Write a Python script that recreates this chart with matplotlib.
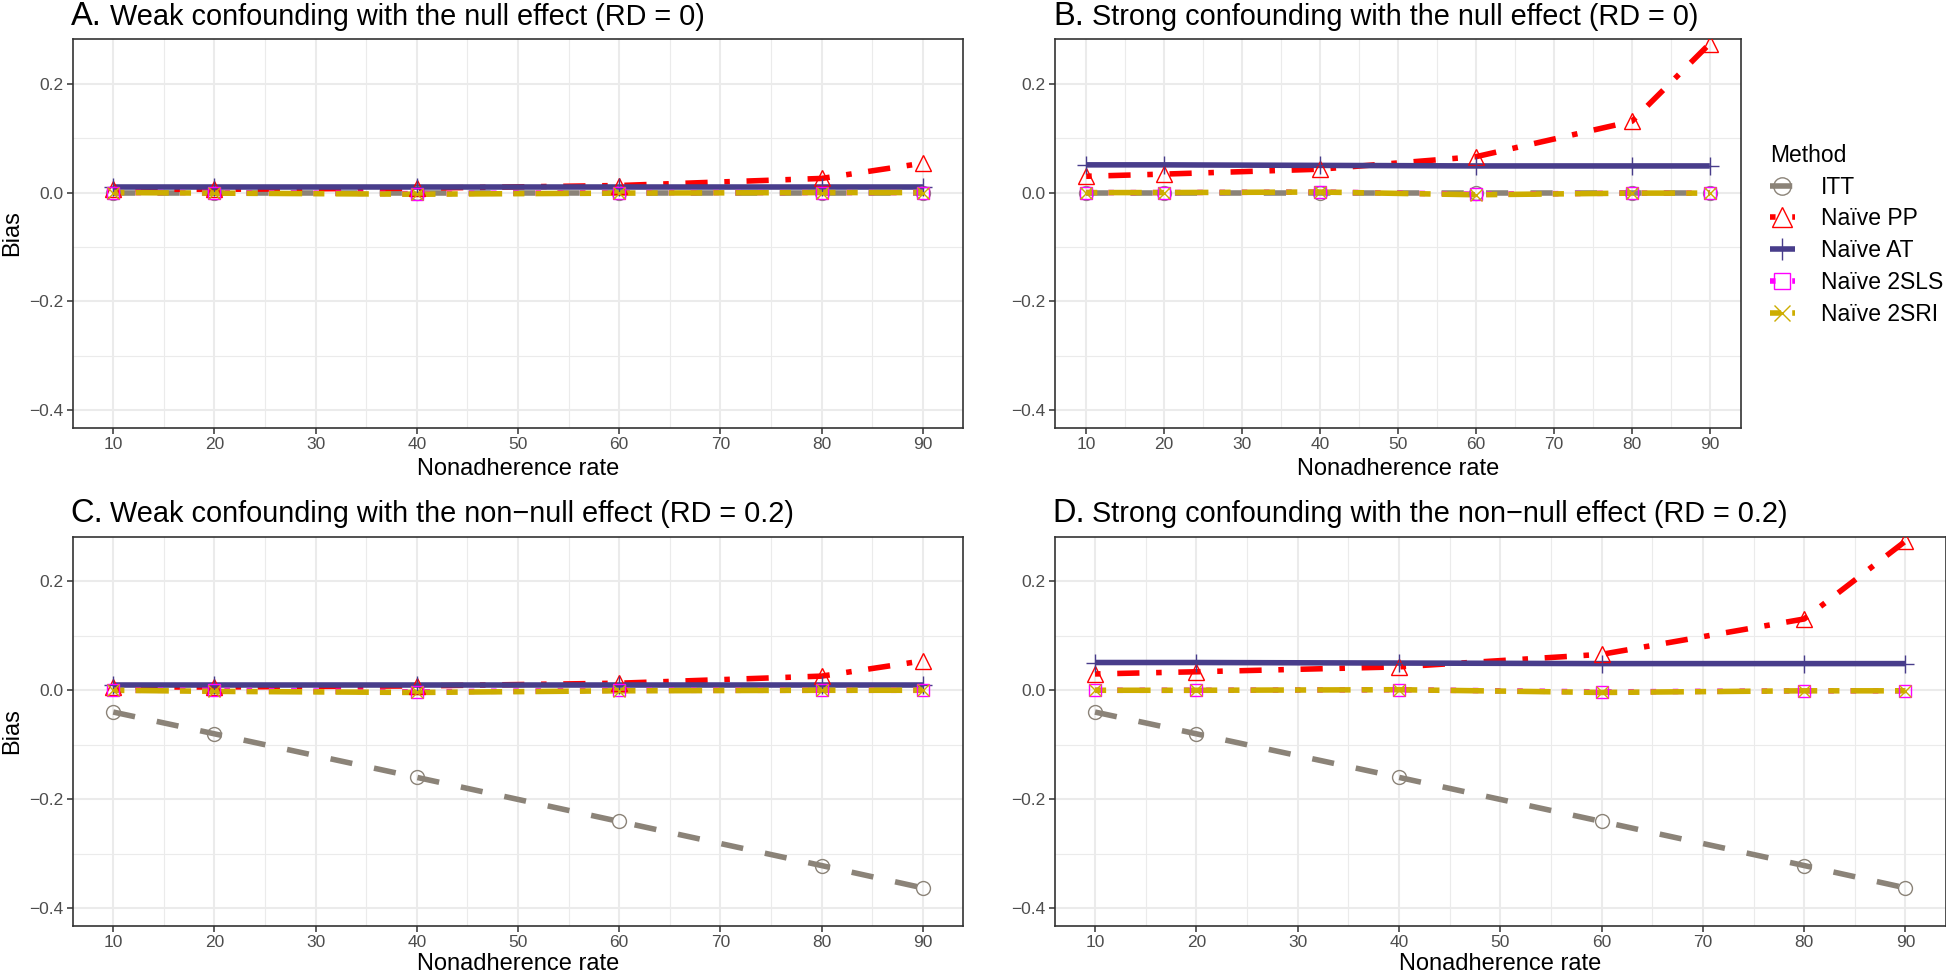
import numpy as np
import matplotlib.pyplot as plt
from matplotlib.lines import Line2D
from matplotlib.ticker import MultipleLocator, FixedLocator, FuncFormatter

plt.rcParams['font.family'] = ['Liberation Sans', 'DejaVu Sans']

# nonadherence rates (%) where the simulation was run
rate = [10, 20, 40, 60, 80, 90]

methods = ["ITT", "Naïve PP", "Naïve AT", "Naïve 2SLS", "Naïve 2SRI"]

# A: weak confounding, null effect
itt_a = [0.000, 0.000, 0.000, 0.000, 0.000, 0.000]
pp_a = [0.006, 0.006, 0.008, 0.013, 0.026, 0.054]
at_a = [0.010, 0.010, 0.010, 0.010, 0.010, 0.010]
sls_a = [0.000, 0.000, -0.002, 0.000, 0.000, 0.000]
sri_a = [0.000, -0.001, -0.003, -0.001, 0.000, 0.000]

# B: strong confounding, null effect
itt_b = [0.000, 0.000, 0.000, 0.000, 0.000, 0.000]
pp_b = [0.030, 0.034, 0.043, 0.066, 0.131, 0.274]
at_b = [0.051, 0.051, 0.050, 0.049, 0.049, 0.049]
sls_b = [0.000, 0.000, 0.001, -0.003, -0.001, -0.001]
sri_b = [0.000, 0.000, 0.001, -0.004, -0.001, -0.001]

# C: weak confounding, RD = 0.2
itt_c = [-0.040, -0.080, -0.160, -0.241, -0.322, -0.363]
pp_c = [0.006, 0.006, 0.008, 0.013, 0.026, 0.054]
at_c = [0.010, 0.010, 0.010, 0.010, 0.010, 0.010]
sls_c = [0.000, 0.000, -0.003, 0.000, 0.000, 0.000]
sri_c = [0.000, -0.002, -0.004, -0.001, 0.000, 0.000]

# D: strong confounding, RD = 0.2
itt_d = [-0.040, -0.080, -0.160, -0.241, -0.322, -0.363]
pp_d = [0.030, 0.034, 0.043, 0.066, 0.131, 0.274]
at_d = [0.051, 0.051, 0.050, 0.049, 0.049, 0.049]
sls_d = [0.000, 0.000, 0.001, -0.003, -0.001, -0.001]
sri_d = [0.000, 0.000, 0.001, -0.004, -0.001, -0.001]

colors = ["#8B8378", "#FF0000", "#483D8B", "#FF00FF", "#CDAD00"]
dashes = [(0, (4, 4)), (0, (1, 3, 4, 3)), "-", (0, (1, 3)), (0, (2, 2, 6, 2))]
marks = ["o", "^", "+", "s", "x"]
msizes = [10, 12, 13, 9, 9]

W, H = 1946, 975
fig = plt.figure(figsize=(W / 100, H / 100), dpi=100)


def px_box(l, t, r, b):
    return [l / W, 1 - b / H, (r - l) / W, (b - t) / H]


def yfmt(v, pos):
    s = f"{v:.1f}"
    if s == "-0.0":
        s = "0.0"
    return s.replace("-", "\u2212")


panels = [
    ("A.", "Weak confounding with the null effect (RD = 0)",
     (72.8, 39, 963.2, 427.7), [itt_a, pp_a, at_a, sls_a, sri_a], True),
    ("B.", "Strong confounding with the null effect (RD = 0)",
     (1055, 39, 1741, 427.7), [itt_b, pp_b, at_b, sls_b, sri_b], False),
    ("C.", "Weak confounding with the non\u2212null effect (RD = 0.2)",
     (72.8, 536.5, 963.2, 925.7), [itt_c, pp_c, at_c, sls_c, sri_c], True),
    ("D.", "Strong confounding with the non\u2212null effect (RD = 0.2)",
     (1054.5, 536.5, 1946, 925.7), [itt_d, pp_d, at_d, sls_d, sri_d], False),
]

for tag, title, (l, t, r, b), series, ylab in panels:
    ax = fig.add_axes(px_box(l, t, r, b))
    for ys, c, d in zip(series, colors, dashes):
        ax.plot(rate, ys, color=c, lw=4, linestyle=d,
                dash_capstyle="butt", solid_capstyle="butt", zorder=2)
    for ys, c, m, ms in zip(series, colors, marks, msizes):
        ax.plot(rate, ys, ls="none", marker=m, ms=ms, mfc="none",
                mec=c, mew=1.0, zorder=3)

    ax.set_xlim(6, 94)
    ax.set_ylim(-0.4325, 0.2825)
    ax.xaxis.set_major_locator(MultipleLocator(10))
    ax.xaxis.set_minor_locator(MultipleLocator(5))
    ax.yaxis.set_major_locator(FixedLocator([-0.4, -0.2, 0.0, 0.2]))
    ax.yaxis.set_minor_locator(FixedLocator([-0.3, -0.1, 0.1]))
    ax.yaxis.set_major_formatter(FuncFormatter(yfmt))
    ax.set_axisbelow(True)
    ax.grid(which="major", color="#EBEBEB", lw=1.5)
    ax.grid(which="minor", color="#EBEBEB", lw=0.8)
    ax.tick_params(which="major", length=4.1, width=1.1, color="#333333",
                   labelcolor="#4D4D4D", labelsize=12.5, pad=2.5)
    ax.tick_params(which="minor", length=0)
    for sp in ax.spines.values():
        sp.set_color("#333333")
        sp.set_linewidth(1.2)

    # panel title: tag plus text
    fig.text((l - 2) / W, 1 - (t - 14) / H, tag, fontsize=23.5,
             va="baseline", ha="left")
    fig.text((l + 37) / W, 1 - (t - 14) / H, title, fontsize=20.8,
             va="baseline", ha="left")

    # axis labels
    lab_y = b + 47 if t < 100 else b + 44
    fig.text(((l + r) / 2) / W, 1 - lab_y / H, "Nonadherence rate",
             fontsize=17, ha="center", va="baseline")
    if ylab:
        fig.text(12 / W, 1 - ((t + b) / 2) / H, "Bias", fontsize=17,
                 rotation=90, ha="center", va="center")

handles = []
for c, d, m, ms in zip(colors, dashes, marks, msizes):
    handles.append(Line2D([], [], color=c, lw=4, linestyle=d,
                          dash_capstyle="butt", solid_capstyle="butt",
                          marker=m, ms=ms * 1.25, mfc="none", mec=c, mew=1.0))

leg = fig.legend(handles, methods, title="Method", loc="upper left",
                 bbox_to_anchor=(1756 / W, 1 - 130 / H), frameon=False,
                 fontsize=16.5, title_fontsize=16.5, handlelength=1.09,
                 handletextpad=1.15, labelspacing=0.38, borderpad=0.61,
                 borderaxespad=0, alignment="left")

fig.savefig("out.png", dpi=100)
